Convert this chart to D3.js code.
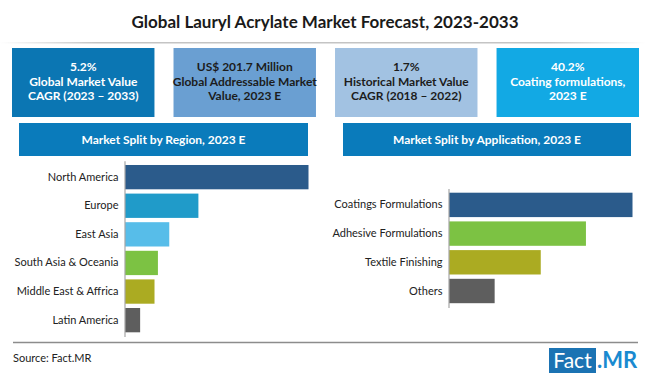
<!DOCTYPE html>
<html>
<head>
<meta charset="utf-8">
<script src="https://cdn.jsdelivr.net/npm/d3@7"></script>
<style>
  body { margin: 0; background: #fff; }
  svg { display: block; font-family: Lato, "Open Sans", sans-serif; }
</style>
</head>
<body>
<svg id="chart" width="650" height="377"></svg>
<script>
const title = 'Global Lauryl Acrylate Market Forecast, 2023-2033';
const kpiLines = [
  ['5.2%', 'Global Market Value', 'CAGR (2023 – 2033)'],
  ['US$ 201.7 Million', 'Global Addressable Market', 'Value, 2023 E'],
  ['1.7%', 'Historical Market Value', 'CAGR (2018 – 2022)'],
  ['40.2%', 'Coating formulations,', '2023 E']
];
const kpiFill = ['#0b76b3', '#6a9fd2', '#a2c2e2', '#12a9e4'];
const kpiText = ['#fff', '#1c1c1c', '#1c1c1c', '#fff'];

const regions = ['North America', 'Europe', 'East Asia', 'South Asia & Oceania', 'Middle East & Affrica', 'Latin America'];
const regionShare = [48.5, 19.4, 11.7, 8.7, 7.8, 4.0];
const regionColors = ['#2b5b8b', '#209bc9', '#57bde9', '#7cc243', '#abab22', '#5e5e5e'];

const applications = ['Coatings Formulations', 'Adhesive Formulations', 'Textile Finishing', 'Others'];
const applicationShare = [40.2, 30.0, 20.1, 10.0];
const applicationColors = ['#2b5b8b', '#7cc243', '#abab22', '#5e5e5e'];

const svg = d3.select('#chart');

// title + fading rule under it
svg.append('text')
  .attr('x', 325).attr('y', 28)
  .attr('text-anchor', 'middle')
  .attr('font-size', 17).attr('font-weight', 700).attr('fill', '#1a1a1a')
  .text(title);
const grad = svg.append('defs').append('linearGradient').attr('id', 'rule');
grad.append('stop').attr('offset', '0%').attr('stop-color', '#fff');
grad.append('stop').attr('offset', '15%').attr('stop-color', '#c4c4c4');
grad.append('stop').attr('offset', '85%').attr('stop-color', '#c4c4c4');
grad.append('stop').attr('offset', '100%').attr('stop-color', '#fff');
svg.append('rect').attr('x', 0).attr('y', 42).attr('width', 645).attr('height', 1.5).attr('fill', 'url(#rule)');

// KPI boxes
const kx = d3.scaleBand().domain(d3.range(kpiLines.length)).range([12, 639]).paddingInner(0.118);
const kpi = svg.append('g').selectAll('g').data(kpiLines).join('g')
  .attr('transform', (d, i) => `translate(${kx(i)},48)`);
kpi.append('rect')
  .attr('width', kx.bandwidth()).attr('height', 69)
  .attr('fill', (d, i) => kpiFill[i]);
kpi.each(function (lines, i) {
  const t = d3.select(this).append('text')
    .attr('text-anchor', 'middle')
    .attr('font-size', 12).attr('font-weight', 700)
    .attr('fill', kpiText[i]);
  lines.forEach((l, j) => {
    t.append('tspan').attr('x', kx.bandwidth() / 2).attr('y', 23 + j * 14.5).text(l);
  });
});

function barPanel(cats, vals, colors, header, hx, xr, yr) {
  const g = svg.append('g');
  g.append('rect').attr('x', hx[0]).attr('y', 123).attr('width', hx[1] - hx[0]).attr('height', 33).attr('fill', '#0a7bbb');
  g.append('text')
    .attr('x', (hx[0] + hx[1]) / 2).attr('y', 143.5)
    .attr('text-anchor', 'middle').attr('font-size', 12).attr('font-weight', 700).attr('fill', '#fff')
    .text(header);

  const x = d3.scaleLinear().domain([0, d3.max(vals)]).range(xr);
  const y = d3.scaleBand().domain(cats).range(yr).paddingInner(0.15).paddingOuter(0.15);

  g.selectAll('.bar').data(cats).join('rect')
    .attr('x', x(0) + 0.5)
    .attr('y', d => y(d))
    .attr('width', (d, i) => x(vals[i]) - x(0))
    .attr('height', y.bandwidth())
    .attr('fill', (d, i) => colors[i]);

  const ax = g.append('g').attr('transform', `translate(${x(0)},0)`)
    .call(d3.axisLeft(y).tickSize(0).tickSizeOuter(0).tickPadding(6));
  ax.select('.domain').attr('stroke', '#a6a6a6').attr('stroke-width', 1.2);
  ax.selectAll('text').attr('font-size', 11).attr('fill', '#222').attr('font-family', 'Lato, sans-serif');
}

barPanel(regions, regionShare, regionColors, 'Market Split by Region, 2023 E',
  [19, 308], [124.5, 308], [160.7, 336.6]);
barPanel(applications, applicationShare, applicationColors, 'Market Split by Application, 2023 E',
  [343, 631], [448.5, 632], [188.4, 307.5]);

// footer
svg.append('line').attr('x1', 13).attr('x2', 638).attr('y1', 342.5).attr('y2', 342.5)
  .attr('stroke', '#8c8c8c').attr('stroke-width', 1.5);
svg.append('text').attr('x', 13).attr('y', 362).attr('font-size', 11).attr('fill', '#222').text('Source: Fact.MR');

const logo = svg.append('g');
logo.append('rect').attr('x', 549).attr('y', 348).attr('width', 47).attr('height', 25).attr('fill', '#1b73b3');
logo.append('text').attr('x', 572.5).attr('y', 368).attr('text-anchor', 'middle')
  .attr('font-size', 21).attr('fill', '#fff').text('Fact');
logo.append('text').attr('x', 597).attr('y', 368)
  .attr('font-size', 22).attr('font-weight', 700).attr('fill', '#1a8ad0').text('.MR');
</script>
</body>
</html>
